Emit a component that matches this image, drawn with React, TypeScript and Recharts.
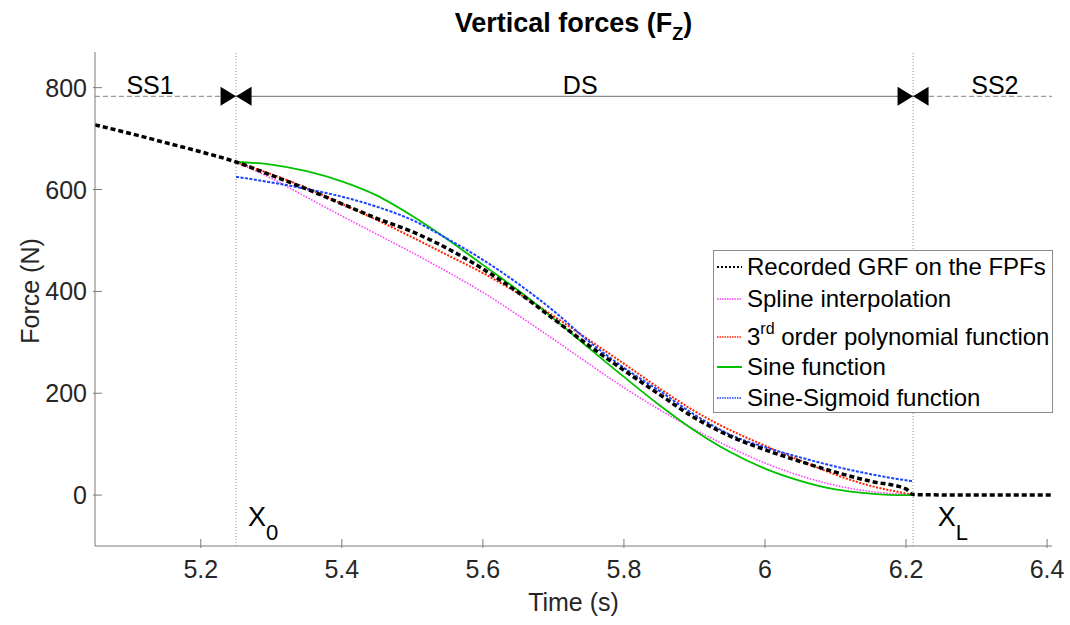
import * as React from "react"
import { ComposedChart, Line, XAxis, YAxis, ReferenceLine, ReferenceDot, Legend } from "recharts"

const W = 1070
const H = 625
const FONT = "'Liberation Sans', Arial, Helvetica, sans-serif"
const AXIS = "#7a7a7a"
const TXT = "#262626"
const TICK = 9

// recorded ground reaction force (whole window)
const grfTime = [5.05, 5.1, 5.15, 5.2, 5.25, 5.3, 5.35, 5.4, 5.45, 5.5, 5.55, 5.6, 5.65, 5.7, 5.75, 5.8, 5.85, 5.9, 5.95, 6.0, 6.05, 6.1, 6.15, 6.2, 6.21, 6.3, 6.41]
const grfForce = [727, 710, 692, 674, 654, 628, 601, 572, 543, 517, 484, 444, 398, 346, 294, 245, 198, 152, 116, 89, 66, 45, 27, 12, 1, 0, 0]

// double support phase models
const dsTime = [5.25, 5.3, 5.35, 5.4, 5.45, 5.5, 5.55, 5.6, 5.65, 5.7, 5.75, 5.8, 5.85, 5.9, 5.95, 6.0, 6.05, 6.1, 6.15, 6.2, 6.21]
const splineForce = [654, 622, 585, 548, 512, 476, 438, 398, 353, 306, 258, 211, 168, 129, 94, 63, 38, 19, 7, 1, 0]
const polyForce = [654, 630, 603, 572, 540, 506, 471, 436, 396, 352, 305, 258, 210, 165, 128, 97, 68, 40, 18, 3, 0]
const sineForce = [654, 649, 636, 616, 588, 548, 502, 452, 402, 347, 289, 232, 177, 127, 85, 52, 28, 11, 3, 0, 0]
const sigmoidForce = [625, 614, 601, 586, 566, 540, 503, 462, 415, 362, 302, 250, 205, 158, 119, 94, 74, 56, 41, 29, 27]

const xTicks = [5.2, 5.4, 5.6, 5.8, 6, 6.2, 6.4]
const yTicks = [0, 200, 400, 600, 800]

const x0 = 5.25
const xL = 6.21
const phaseLevel = 783
const phaseLabels = [
  { text: "SS1", t: 5.128 },
  { text: "DS", t: 5.738 },
  { text: "SS2", t: 6.326 },
]

const toPts = (t: number[], f: number[]) => t.map((v, i) => ({ t: v, f: f[i] }))

const series = [
  { name: "Spline interpolation", data: toPts(dsTime, splineForce), color: "#ff3cff", width: 1.6, dash: "1.5 1.5" },
  { name: "3rd order polynomial function", data: toPts(dsTime, polyForce), color: "#ff2200", width: 2, dash: "2 1.5" },
  { name: "Sine function", data: toPts(dsTime, sineForce), color: "#00c000", width: 1.8, dash: undefined },
  { name: "Sine-Sigmoid function", data: toPts(dsTime, sigmoidForce), color: "#1a44ff", width: 2, dash: "3 1.5" },
  { name: "Recorded GRF on the FPFs", data: toPts(grfTime, grfForce), color: "#000000", width: 3.5, dash: "5 3" },
]

const legendRows = [
  { label: "Recorded GRF on the FPFs", color: "#000000", dash: "2 2", width: 2, y: 25 },
  { label: "Spline interpolation", color: "#ff3cff", dash: "1.5 1", width: 1.5, y: 57 },
  { label: "3rd order polynomial function", color: "#ff2200", dash: "1.5 1", width: 1.5, y: 95 },
  { label: "Sine function", color: "#00c000", dash: undefined, width: 2, y: 125 },
  { label: "Sine-Sigmoid function", color: "#1a44ff", dash: "1.5 1", width: 1.5, y: 156 },
]

const fmtX = (v: number) => (Number.isInteger(v) ? String(v) : v.toFixed(1))

function BottomTick({ x, y, payload }: any) {
  return (
    <g>
      <line x1={x} x2={x} y1={y} y2={y - TICK} stroke={AXIS} />
      <text x={x} y={y + 30} textAnchor="middle" fontSize={25} fill={TXT}>{fmtX(payload.value)}</text>
    </g>
  )
}

function TopTick({ x, y }: any) {
  return <line x1={x} x2={x} y1={y} y2={y + TICK} stroke={AXIS} />
}

function LeftTick({ x, y, payload }: any) {
  return (
    <g>
      <line x1={x} x2={x + TICK} y1={y} y2={y} stroke={AXIS} />
      <text x={x - 6} y={y} dy="0.36em" textAnchor="end" fontSize={25} fill={TXT}>{payload.value}</text>
    </g>
  )
}

function RightTick({ x, y }: any) {
  return <line x1={x} x2={x - TICK} y1={y} y2={y} stroke={AXIS} />
}

function XLabel({ viewBox }: any) {
  const vb = viewBox ?? { x: 95, y: 546, width: 957, height: 40 }
  return (
    <text x={vb.x + vb.width / 2} y={vb.y + 65} textAnchor="middle" fontSize={25} fill={TXT}>Time (s)</text>
  )
}

function YLabel({ viewBox }: any) {
  const vb = viewBox ?? { x: 35, y: 52, width: 60, height: 494 }
  const cx = vb.x - 5
  const cy = vb.y + vb.height / 2 - 8
  return (
    <text x={cx} y={cy} transform={`rotate(-90 ${cx} ${cy})`} textAnchor="middle" dominantBaseline="central" fontSize={25} fill={TXT}>Force (N)</text>
  )
}

function Bowtie({ cx, cy }: any) {
  return (
    <g>
      <polygon points={`${cx - 15.5},${cy - 9.5} ${cx},${cy} ${cx - 15.5},${cy + 9.5}`} fill="#000" />
      <polygon points={`${cx + 15.5},${cy - 9.5} ${cx},${cy} ${cx + 15.5},${cy + 9.5}`} fill="#000" />
    </g>
  )
}

const phaseText = (text: string) => ({ cx, cy }: any) => (
  <text x={cx} y={cy - 2} textAnchor="middle" fontSize={25} fill="#000">{text}</text>
)

const boundText = (sub: string) => ({ cx, cy }: any) => (
  <text x={cx} y={cy} fontSize={27} fill="#000">
    X<tspan fontSize={22} dy={14}>{sub}</tspan>
  </text>
)

function LegendBox() {
  return (
    <svg width={340} height={163} style={{ display: "block" }}>
      <rect x={0.5} y={0.5} width={339} height={162} fill="#fff" stroke="#8c8c8c" />
      {legendRows.map((r) => {
        const mid = r.y - 8
        return (
          <g key={r.label}>
            <line x1={4} x2={29} y1={mid} y2={mid} stroke={r.color} strokeWidth={r.width} strokeDasharray={r.dash} />
            {r.label.startsWith("3rd") ? (
              <text x={34} y={r.y} fontSize={24} fill="#000">
                3<tspan fontSize={16} dy={-11}>rd</tspan>
                <tspan dy={11}> order polynomial function</tspan>
              </text>
            ) : (
              <text x={34} y={r.y} fontSize={24} fill="#000">{r.label}</text>
            )}
          </g>
        )
      })}
    </svg>
  )
}

export default function App() {
  return (
    <div style={{ position: "absolute", left: 0, top: 0, width: W, height: H, background: "#fff", fontFamily: FONT }}>
      <ComposedChart width={W} height={H} margin={{ top: 52, right: 18, bottom: 39, left: 35 }}>
        <XAxis
          type="number"
          dataKey="t"
          domain={[5.05, 6.407]}
          ticks={xTicks}
          allowDataOverflow
          height={40}
          tickSize={0}
          tickLine={false}
          tick={BottomTick}
          stroke={AXIS}
          label={{ content: XLabel }}
        />
        <XAxis
          xAxisId="top"
          orientation="top"
          type="number"
          dataKey="t"
          domain={[5.05, 6.407]}
          ticks={xTicks}
          allowDataOverflow
          height={0}
          tickSize={0}
          tickLine={false}
          tick={TopTick}
          stroke={AXIS}
        />
        <YAxis
          type="number"
          domain={[-100, 870]}
          ticks={yTicks}
          allowDataOverflow
          width={60}
          tickSize={0}
          tickLine={false}
          tick={LeftTick}
          stroke={AXIS}
          label={{ content: YLabel }}
        />
        <YAxis
          yAxisId="right"
          orientation="right"
          type="number"
          domain={[-100, 870]}
          ticks={yTicks}
          allowDataOverflow
          width={0}
          tickSize={0}
          tickLine={false}
          tick={RightTick}
          stroke={AXIS}
        />

        <ReferenceLine x={x0} stroke="#8a8a8a" strokeWidth={1} strokeDasharray="1 2" />
        <ReferenceLine x={xL} stroke="#8a8a8a" strokeWidth={1} strokeDasharray="1 2" />
        <ReferenceLine segment={[{ x: 5.05, y: phaseLevel }, { x: x0, y: phaseLevel }]} stroke="#9a9a9a" strokeWidth={1.3} strokeDasharray="5 3" />
        <ReferenceLine segment={[{ x: x0, y: phaseLevel }, { x: xL, y: phaseLevel }]} stroke="#8a8a8a" strokeWidth={1.3} />
        <ReferenceLine segment={[{ x: xL, y: phaseLevel }, { x: 6.407, y: phaseLevel }]} stroke="#9a9a9a" strokeWidth={1.3} strokeDasharray="5 3" />
        <ReferenceDot x={x0} y={phaseLevel} r={1} shape={Bowtie} />
        <ReferenceDot x={xL} y={phaseLevel} r={1} shape={Bowtie} />
        {phaseLabels.map((p) => (
          <ReferenceDot key={p.text} x={p.t} y={phaseLevel} r={1} shape={phaseText(p.text)} />
        ))}
        <ReferenceDot x={5.267} y={-61} r={1} shape={boundText("0")} />
        <ReferenceDot x={6.245} y={-61} r={1} shape={boundText("L")} />

        {series.map((s) => (
          <Line
            key={s.name}
            name={s.name}
            data={s.data}
            dataKey="f"
            type="monotone"
            stroke={s.color}
            strokeWidth={s.width}
            strokeDasharray={s.dash}
            dot={false}
            activeDot={false}
            isAnimationActive={false}
          />
        ))}

        <Legend
          layout="horizontal"
          verticalAlign="middle"
          align="center"
          wrapperStyle={{ left: 713, top: 250, width: 340, height: 163 }}
          content={LegendBox}
        />
      </ComposedChart>
      <svg width={W} height={50} style={{ position: "absolute", left: 0, top: 0, pointerEvents: "none" }}>
        <text x={573.5} y={32} textAnchor="middle" fontSize={27} fontWeight="bold" fill="#000">
          Vertical forces (F<tspan fontSize={18} dy={8}>Z</tspan>
          <tspan dy={-8}>)</tspan>
        </text>
      </svg>
    </div>
  )
}
